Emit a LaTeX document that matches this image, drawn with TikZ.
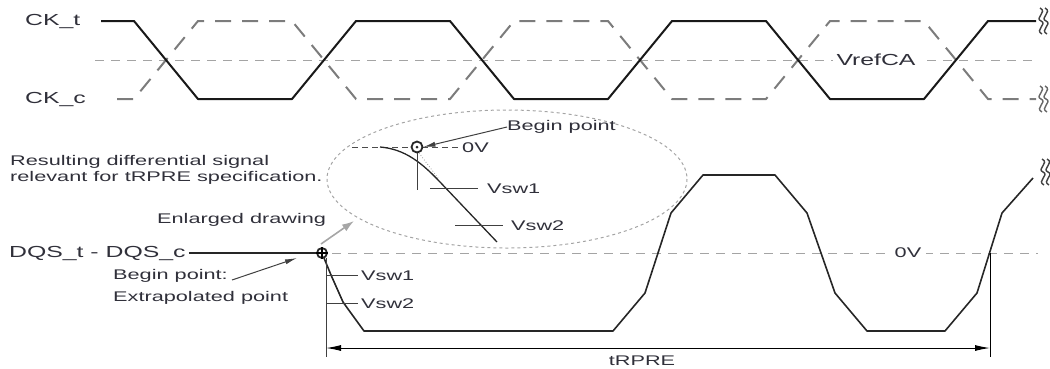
\documentclass[tikz,border=0pt]{standalone}
\usepackage{fontspec}
\setmainfont{Liberation Sans}[FakeStretch=1.55]
\usetikzlibrary{arrows.meta}

\definecolor{txtc}{HTML}{30303A}
\definecolor{dashc}{HTML}{7C7C7C}
\definecolor{refc}{HTML}{A4A4A4}

%% break mark at the right end of a trace
\newcommand{\wavebreak}[2]{%
  \foreach \dx in {0,5}
    \draw[#2, line width=1.4pt, shift={(#1)}, xshift=\dx pt]
      (1,-13) .. controls (9,-9) and (-5,-3) .. (2,0)
      .. controls (9,3) and (-5,9) .. (3,13);}

\begin{document}
\begin{tikzpicture}[x=1pt,y=-1pt,
  lbl/.style={inner sep=0pt, text=txtc, font=\fontsize{16}{19}\selectfont},
  sml/.style={inner sep=0pt, text=txtc, font=\fontsize{14}{16}\selectfont},
  ckline/.style={line width=2pt, black!90, line join=round},
  ckdash/.style={line width=2pt, dashc, dash pattern=on 16pt off 11pt},
  refline/.style={line width=0.9pt, refc, dash pattern=on 9pt off 7pt},
  sig/.style={line width=1.6pt, black!85, line join=round},
  vtick/.style={line width=1pt, black!75},
  ptr/.style={line width=1pt, black!75, -{Latex[length=12pt,width=5pt]}},
  dimline/.style={line width=1pt, black, {Latex[length=15pt,width=6pt]}-{Latex[length=15pt,width=6pt]}},
  bpt/.style={circle, draw=black!85, line width=1.8pt, fill=white, inner sep=0pt, minimum size=#1},
  zoomring/.style={line width=1pt, refc, dash pattern=on 3pt off 3pt}]

  \useasboundingbox (0,0) rectangle (1050,368);

  %% clock pair
  \node[lbl, anchor=west] (CKt) at (25,21) {CK\_t};
  \node[lbl, anchor=west] (CKc) at (25,99) {CK\_c};

  \draw[refline] (95,60) -- (1035,60);
  \node[lbl, fill=white, inner sep=4pt] (Vref) at (876,60) {VrefCA};

  \draw[ckdash] (117,99) -- (134,99) -- (198,21) -- (292,21) -- (356,99) -- (450,99)
    -- (514,21) -- (608,21) -- (672,99) -- (766,99) -- (830,21) -- (924,21)
    -- (988,99) -- (1036,99);
  \draw[ckline] (101,21) -- (134,21) -- (198,99) -- (292,99) -- (356,21) -- (450,21)
    -- (514,99) -- (608,99) -- (672,21) -- (766,21) -- (830,99) -- (924,99)
    -- (988,21) -- (1036,21);
  \wavebreak{1039,21}{black!75}
  \wavebreak{1039,99}{black!60}

  %% differential strobe
  \node[lbl, anchor=west] (DQS) at (9,253) {DQS\_t - DQS\_c};
  \draw[refline] (332,253) -- (1038,253);
  \node[sml, fill=white, inner sep=5pt] (zeroV) at (908,253) {0V};

  \node[bpt=10pt] (B0) at (322,253) {};
  \draw[sig] (DQS.east) ++(3,0) -- (B0.west);
  \draw[line width=1.2pt] (B0.north) -- (B0.south) (B0.west) -- (B0.east);

  \draw[sig] (324,258) -- (331,275) -- (343,302) -- (348,309) -- (364,331) -- (613,331)
    -- (645,293) -- (671,213) -- (703,175) -- (775,175) -- (807,213) -- (835,293)
    -- (867,331) -- (945,331) -- (977,293) -- (1002,213) -- (1033,178);
  \wavebreak{1041,172}{black!75}

  \draw[vtick] (326,258) -- (326,357);
  \draw[vtick] (326,275) -- (358,275);
  \draw[vtick] (326,303) -- (358,303);
  \node[sml, anchor=west] (Vsw1) at (361,276) {Vsw1};
  \node[sml, anchor=west] (Vsw2) at (361,304) {Vsw2};

  \node[sml, anchor=west] (BP1) at (113,276) {Begin point:};
  \node[sml, anchor=west] (BP2) at (113,298) {Extrapolated point};
  \coordinate (BPtip) at (297,258);
  \draw[ptr] ([xshift=4pt,yshift=-4pt]BP1.east) -- (BPtip);

  %% tRPRE
  \draw[vtick, black] (990,253) -- (990,357);
  \coordinate (T0) at (326,348);
  \coordinate (T1) at (990,348);
  \draw[dimline] (T0) -- (T1);
  \node[sml] (tRPRE) at (642,361) {tRPRE};

  %% enlarged view
  \draw[zoomring] (507,179) ellipse [x radius=180, y radius=69];
  \node[sml, anchor=west, align=left] (Result) at (10,170)
    {Resulting differential signal\\relevant for tRPRE specification.};
  \node[sml, anchor=west] (Enl) at (157,220) {Enlarged drawing};
  \coordinate (E0) at (321,244);
  \coordinate (E1) at (354,221);
  \draw[line width=1.6pt, black!35, -{Latex[length=12pt,width=8pt]}] (E0) -- (E1);

  \draw[black!70, line width=1pt, dash pattern=on 6pt off 4pt] (352,147) -- (460,147);
  \node[sml, anchor=west] (Z0V) at (462,148) {0V};
  \draw[black!40, line width=0.8pt, dotted] (419,153) -- (438,178);
  \draw[sig, line width=1.3pt] (380,147) .. controls (405,149) and (422,163) .. (440,182) -- (497,242);
  \node[bpt=11pt] (B1) at (417,147) {};
  \fill[black!85] (B1) circle (1.5);
  \draw[vtick] (B1.south) -- (417,190);
  \draw[vtick] (430,188) -- (478,188);
  \draw[vtick] (455,225) -- (503,225);
  \node[sml, anchor=west] (Vsw1z) at (487,189) {Vsw1};
  \node[sml, anchor=west] (Vsw2z) at (511,226) {Vsw2};
  \node[sml, anchor=west] (BPz) at (507,127) {Begin point};
  \draw[ptr] (BPz.west) -- (B1.east);

\end{tikzpicture}
\end{document}
